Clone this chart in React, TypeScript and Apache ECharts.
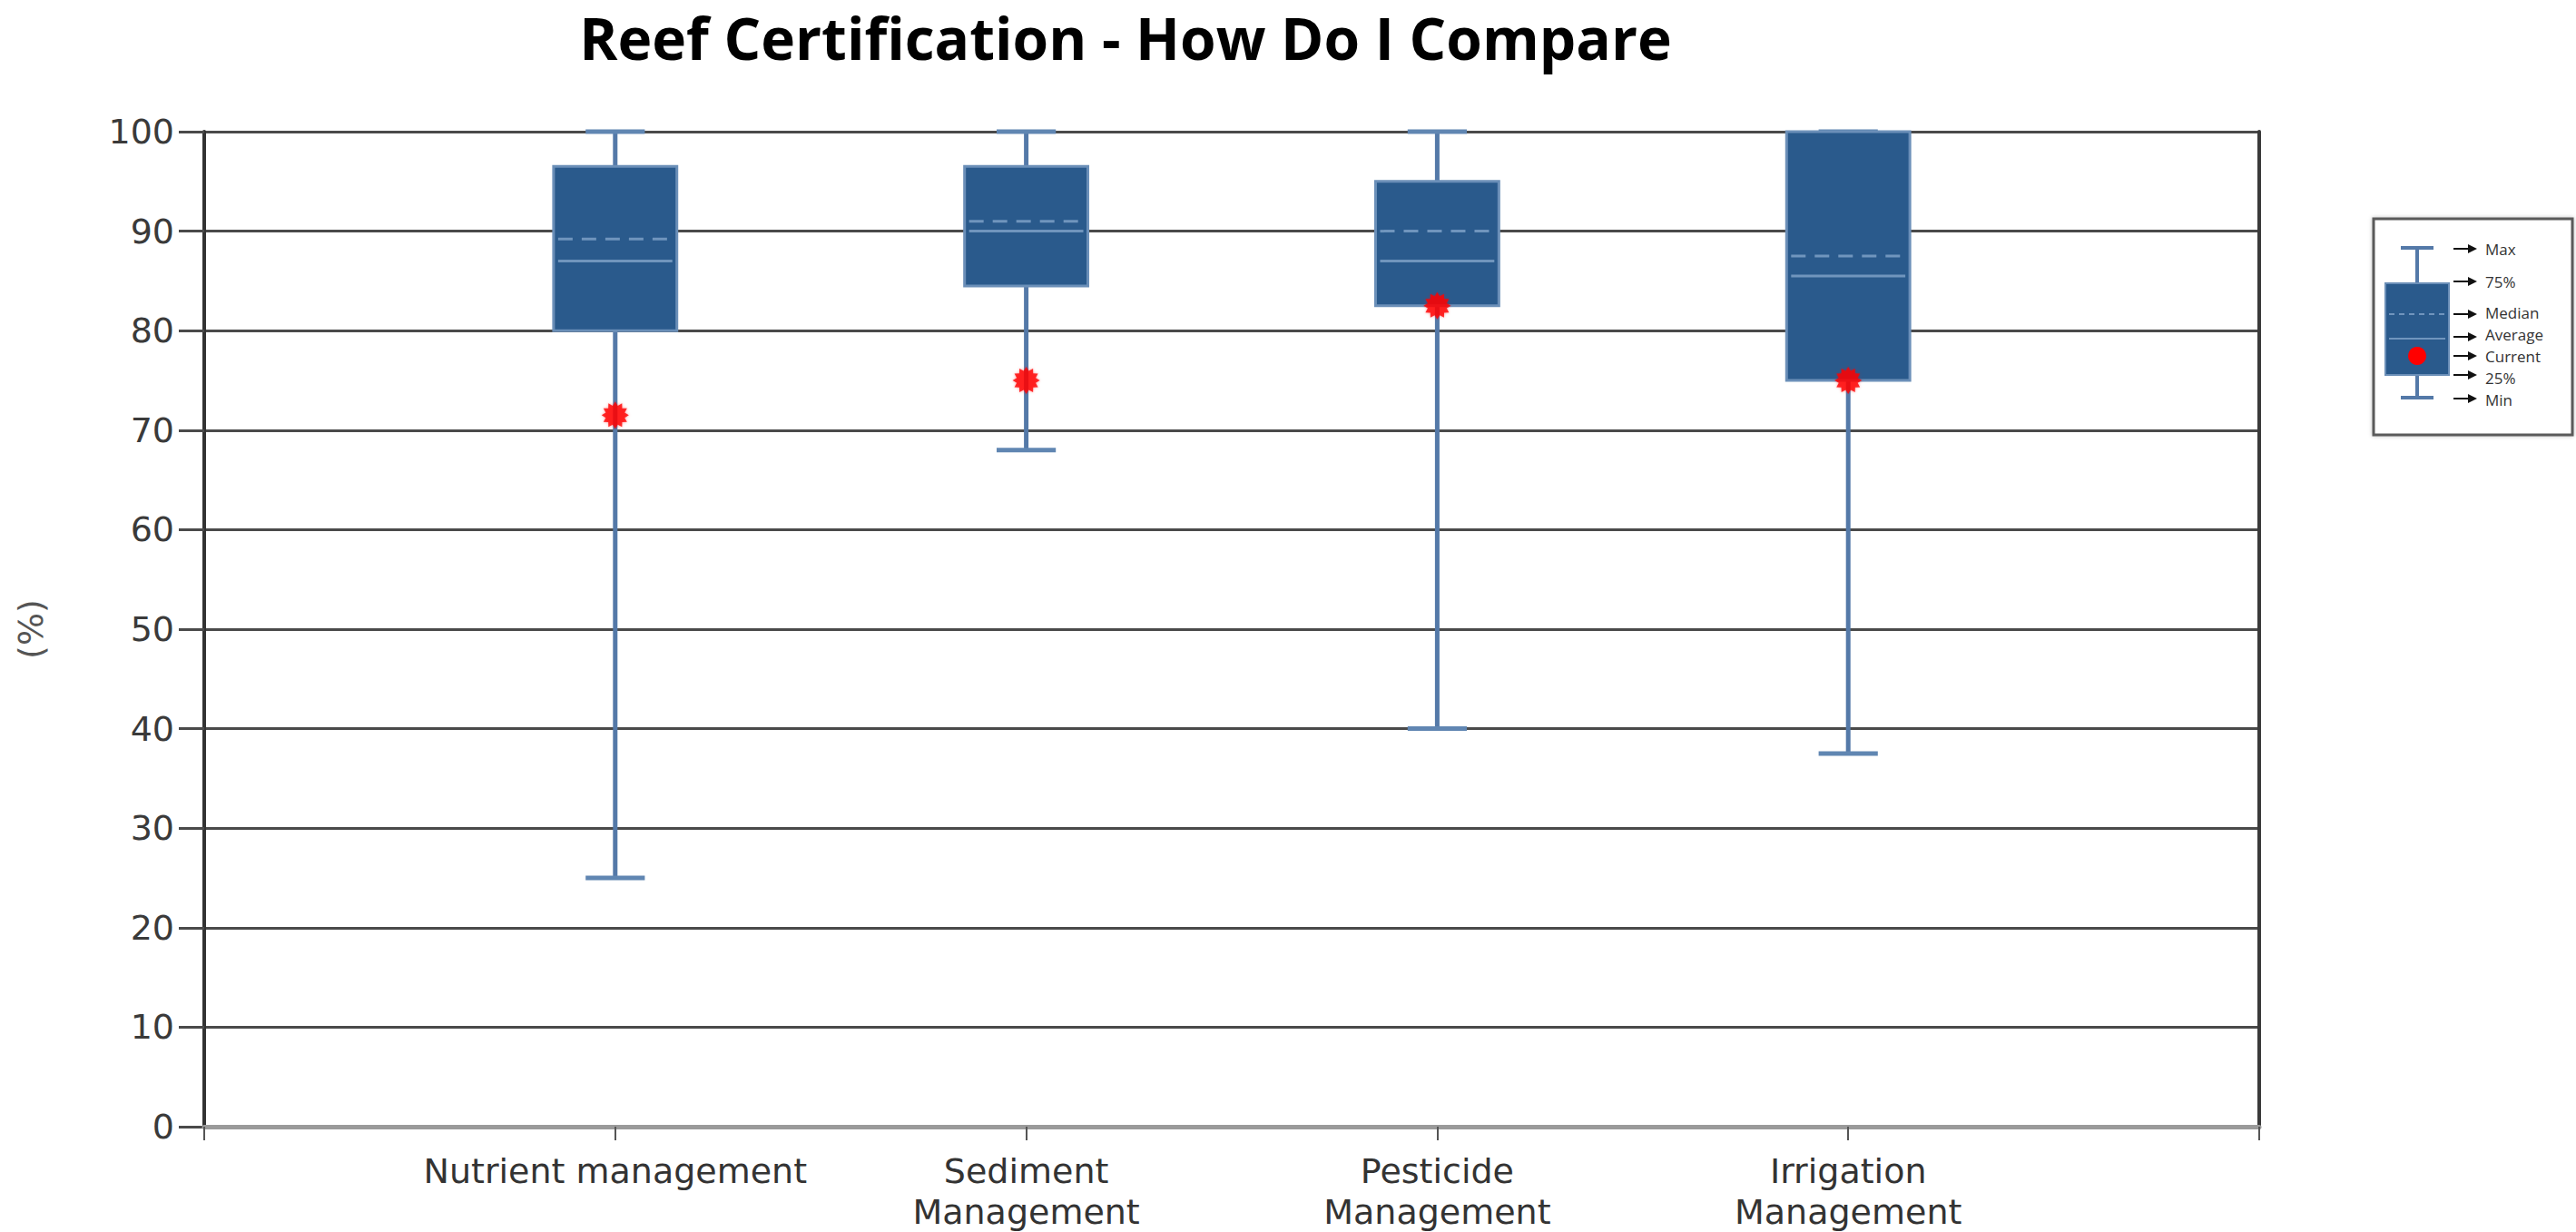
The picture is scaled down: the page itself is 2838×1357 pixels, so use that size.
import React, { useEffect, useRef } from "react";
import * as echarts from "echarts";

const chartTitle = "Reef Certification - How Do I Compare";
const categories = [
  "Nutrient management",
  "Sediment\nManagement",
  "Pesticide\nManagement",
  "Irrigation\nManagement",
];
const minValues = [25, 68, 40, 37.5];
const q1Values = [80, 84.5, 82.5, 75];
const medianValues = [89.2, 91, 90, 87.5];
const averageValues = [87, 90, 87, 85.5];
const q3Values = [96.5, 96.5, 95, 100];
const maxValues = [100, 100, 100, 100];
const currentValues = [71.5, 75, 82.5, 75];
const yTicks = { min: 0, max: 100, interval: 10 };
const legendLabels = ["Max", "75%", "Median", "Average", "Current", "25%", "Min"];

const BOX_FILL = "#2a5a8c";
const BOX_EDGE = "#6b8fb8";
const WHISKER = "#5479a8";
const INNER_LINE = "#7095bd";

function burstSymbol(points: number, inner: number): string {
  const parts: string[] = [];
  for (let i = 0; i < points * 2; i++) {
    const r = i % 2 === 0 ? 50 : 50 * inner;
    const a = (Math.PI * i) / points - Math.PI / 2;
    const px = (50 + r * Math.cos(a)).toFixed(2);
    const py = (50 + r * Math.sin(a)).toFixed(2);
    parts.push((i === 0 ? "M" : "L") + px + " " + py);
  }
  return "path://" + parts.join(" ") + " Z";
}

export default function App() {
  const ref = useRef<HTMLDivElement>(null);

  useEffect(() => {
    if (!ref.current) return;
    const chart = echarts.init(ref.current, undefined, { renderer: "svg" });

    const xData = ["", ...categories, ""];
    const boxData = categories.map((_, i) => [
      i + 1,
      minValues[i],
      q1Values[i],
      medianValues[i],
      averageValues[i],
      q3Values[i],
      maxValues[i],
    ]);
    const currentData = categories.map((_, i) => [i + 1, currentValues[i]]);

    // legend graphics
    const lx = 2663;
    const arrowY = [274, 310, 346, 371, 392, 413, 439];
    const labelY = [274, 310, 344, 368, 392, 416, 440];
    const legendChildren: any[] = [
      {
        type: "rect",
        shape: { x: 2615, y: 241, width: 219, height: 238 },
        style: { fill: "#fff", stroke: "#5a5a5a", lineWidth: 3, shadowBlur: 4, shadowColor: "rgba(0,0,0,0.25)" },
      },
      { type: "line", shape: { x1: lx, y1: 273, x2: lx, y2: 312 }, style: { stroke: WHISKER, lineWidth: 4 } },
      { type: "line", shape: { x1: lx - 18, y1: 273, x2: lx + 18, y2: 273 }, style: { stroke: WHISKER, lineWidth: 4 } },
      { type: "line", shape: { x1: lx, y1: 413, x2: lx, y2: 438 }, style: { stroke: WHISKER, lineWidth: 4 } },
      { type: "line", shape: { x1: lx - 18, y1: 438, x2: lx + 18, y2: 438 }, style: { stroke: WHISKER, lineWidth: 4 } },
      {
        type: "rect",
        shape: { x: 2628, y: 312, width: 70, height: 101 },
        style: { fill: BOX_FILL, stroke: BOX_EDGE, lineWidth: 2 },
      },
      {
        type: "line",
        shape: { x1: 2632, y1: 346, x2: 2694, y2: 346 },
        style: { stroke: INNER_LINE, lineWidth: 2, lineDash: [6, 5] },
      },
      { type: "line", shape: { x1: 2632, y1: 373, x2: 2694, y2: 373 }, style: { stroke: INNER_LINE, lineWidth: 2 } },
      { type: "circle", shape: { cx: lx, cy: 392, r: 10 }, style: { fill: "#ff0000" } },
    ];
    legendLabels.forEach((lab, i) => {
      const y = arrowY[i];
      legendChildren.push(
        { type: "line", shape: { x1: 2703, y1: y, x2: 2721, y2: y }, style: { stroke: "#111", lineWidth: 2 } },
        {
          type: "polygon",
          shape: { points: [[2719, y - 5], [2729, y], [2719, y + 5]] },
          style: { fill: "#111" },
        },
        {
          type: "text",
          x: 2738,
          y: labelY[i],
          style: {
            text: lab,
            fontFamily: "Open Sans",
            fontSize: 17,
            lineHeight: 17,
            fill: "#333",
            textVerticalAlign: "middle",
            textAlign: "left",
          },
        }
      );
    });

    chart.setOption({
      animation: false,
      backgroundColor: "#ffffff",
      grid: { left: 225, right: 349, top: 145, bottom: 112, containLabel: false },
      graphic: [
        {
          type: "text",
          x: 1240,
          y: 41,
          style: {
            text: chartTitle,
            fontFamily: "Open Sans",
            fontWeight: "bold",
            fontSize: 64,
            lineHeight: 64,
            fill: "#000",
            textAlign: "center",
            textVerticalAlign: "middle",
          },
        },
        { type: "group", children: legendChildren },
      ],
      xAxis: {
        type: "category",
        data: xData,
        boundaryGap: false,
        z: 5,
        axisLine: { show: true, lineStyle: { color: "#9a9a9a", width: 5 } },
        axisTick: { show: true, interval: 0, length: 15, lineStyle: { color: "#555", width: 2 } },
        axisLabel: {
          interval: 0,
          margin: 26,
          fontFamily: "DejaVu Sans",
          fontSize: 38,
          lineHeight: 45,
          color: "#333",
          verticalAlign: "top",
        },
        splitLine: { show: false },
      },
      yAxis: [
        {
          type: "value",
          min: yTicks.min,
          max: yTicks.max,
          interval: yTicks.interval,
          name: "(%)",
          nameLocation: "middle",
          nameRotate: 90,
          nameGap: 172,
          nameTextStyle: { fontFamily: "DejaVu Sans", fontSize: 38, color: "#555" },
          axisLine: { show: true, lineStyle: { color: "#333", width: 4 } },
          axisTick: { show: true, length: 28, lineStyle: { color: "#4a4a4a", width: 3 } },
          axisLabel: { margin: 33, fontFamily: "DejaVu Sans", fontSize: 38, color: "#3a3a3a" },
          splitLine: { show: true, lineStyle: { color: "#4a4a4a", width: 3 } },
        },
        {
          type: "value",
          position: "right",
          min: yTicks.min,
          max: yTicks.max,
          interval: yTicks.interval,
          axisLine: { show: true, lineStyle: { color: "#3a3a3a", width: 4 } },
          axisTick: { show: false },
          axisLabel: { show: false },
          splitLine: { show: false },
        },
      ],
      series: [
        {
          type: "custom",
          data: boxData,
          encode: { x: 0, y: [1, 2, 3, 4, 5, 6] },
          z: 3,
          renderItem: (params: any, api: any) => {
            const x = api.value(0);
            const [cx, yMin] = api.coord([x, api.value(1)]);
            const yQ1 = api.coord([x, api.value(2)])[1];
            const yMed = api.coord([x, api.value(3)])[1];
            const yAvg = api.coord([x, api.value(4)])[1];
            const yQ3 = api.coord([x, api.value(5)])[1];
            const yMax = api.coord([x, api.value(6)])[1];
            const band = api.size([1, 0])[0];
            const boxW = band * 0.3;
            const capW = boxW * 0.48;
            const inset = 5;
            return {
              type: "group",
              children: [
                { type: "line", shape: { x1: cx, y1: yQ1, x2: cx, y2: yMin }, style: { stroke: WHISKER, lineWidth: 5 } },
                { type: "line", shape: { x1: cx, y1: yQ3, x2: cx, y2: yMax }, style: { stroke: WHISKER, lineWidth: 5 } },
                {
                  type: "line",
                  shape: { x1: cx - capW / 2, y1: yMin, x2: cx + capW / 2, y2: yMin },
                  style: { stroke: "#6086b2", lineWidth: 5 },
                },
                {
                  type: "line",
                  shape: { x1: cx - capW / 2, y1: yMax, x2: cx + capW / 2, y2: yMax },
                  style: { stroke: "#6086b2", lineWidth: 5 },
                },
                {
                  type: "rect",
                  shape: { x: cx - boxW / 2, y: yQ3, width: boxW, height: yQ1 - yQ3 },
                  style: { fill: BOX_FILL, stroke: BOX_EDGE, lineWidth: 3 },
                },
                {
                  type: "line",
                  shape: { x1: cx - boxW / 2 + inset, y1: yMed, x2: cx + boxW / 2 - inset, y2: yMed },
                  style: { stroke: INNER_LINE, lineWidth: 3, lineDash: [16, 10] },
                },
                {
                  type: "line",
                  shape: { x1: cx - boxW / 2 + inset, y1: yAvg, x2: cx + boxW / 2 - inset, y2: yAvg },
                  style: { stroke: INNER_LINE, lineWidth: 3 },
                },
              ],
            };
          },
        },
        {
          type: "scatter",
          data: currentData,
          symbol: burstSymbol(12, 0.72),
          symbolSize: 30,
          z: 4,
          itemStyle: { color: "#ff0000", shadowBlur: 3, shadowColor: "rgba(255,0,0,0.5)" },
        },
      ],
    });

    return () => chart.dispose();
  }, []);

  return (
    <div
      ref={ref}
      style={{ position: "fixed", left: 0, top: 0, width: 2838, height: 1357 }}
    />
  );
}
